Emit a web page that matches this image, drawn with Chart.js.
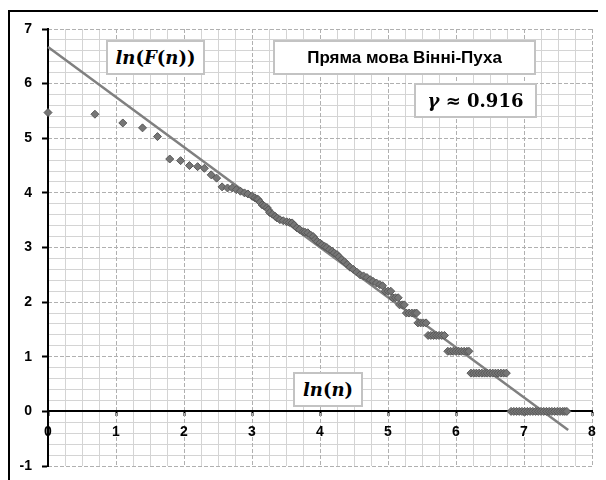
<!DOCTYPE html>
<html>
<head>
<meta charset="utf-8">
<script src="https://cdn.jsdelivr.net/npm/chart.js@4.4.1/dist/chart.umd.min.js"></script>
<style>
body { margin: 0; background: #fff; overflow: hidden; }
#wrap { position: relative; width: 606px; height: 480px; overflow: hidden; }
.line { position: absolute; background: #000; }
canvas { position: absolute; left: 0; top: 0; }
.box { position: absolute; background: #fff; border: 2px solid #c3c3c3; box-sizing: border-box;
       display: flex; align-items: center; justify-content: center; white-space: nowrap; color: #000; }
.math { font-family: 'DejaVu Serif', serif; font-weight: bold; font-size: 18px; }
.math i { font-style: italic; }
.title { font-family: 'Liberation Sans', sans-serif; font-weight: bold; font-size: 17px; }
</style>
</head>
<body>
<div id="wrap">
  <div class="line" style="left:8px;top:10px;width:590px;height:2px;"></div>
  <div class="line" style="left:8px;top:10px;width:2px;height:470px;"></div>
  <canvas id="chart" width="606" height="480"></canvas>
  <div class="box math" style="left:106px;top:40px;width:99px;height:35px;"><span><i>ln</i>(<i>F</i>(<i>n</i>))</span></div>
  <div class="box title" style="left:273px;top:40px;width:263px;height:35px;">Пряма мова Вінні-Пуха</div>
  <div class="box math" style="left:414px;top:83px;width:123px;height:35px;"><span><i>γ</i> ≈ 0.916</span></div>
  <div class="box math" style="left:293px;top:372px;width:70px;height:35px;"><span><i>ln</i>(<i>n</i>)</span></div>
</div>
<script>
// ln(n) - rank, ln(F(n)) - frequency
const lnN = [
  0, 0.69, 1.10, 1.39, 1.61, 1.79, 1.95, 2.08, 2.20, 2.30,
  2.40, 2.48, 2.56, 2.64, 2.71, 2.77, 2.83, 2.89, 2.94,
  3.00, 3.04, 3.07, 3.09, 3.12, 3.15, 3.18, 3.22, 3.24, 3.26,
  3.30, 3.34, 3.37, 3.41, 3.46, 3.51, 3.55, 3.59, 3.62, 3.66,
  3.70, 3.75, 3.78, 3.82, 3.86, 3.90, 3.93, 3.96, 4.00, 4.03,
  4.07, 4.10, 4.14, 4.18, 4.21, 4.25, 4.28, 4.32, 4.36, 4.40,
  4.44, 4.49, 4.54, 4.59, 4.64, 4.69, 4.74, 4.78, 4.83, 4.88, 4.92,
  4.96, 5.00, 5.04,
  5.07, 5.11, 5.15,
  5.17, 5.21, 5.24,
  5.27, 5.31, 5.35, 5.39, 5.42,
  5.44, 5.48, 5.52, 5.56,
  5.59, 5.63, 5.67, 5.71, 5.75, 5.79, 5.83,
  5.88, 5.92, 5.96, 6.00, 6.04, 6.08, 6.12, 6.16, 6.19,
  6.22, 6.26, 6.30, 6.34, 6.38, 6.42, 6.46, 6.50, 6.54, 6.58, 6.62, 6.66, 6.70, 6.74,
  6.81, 6.85, 6.89, 6.93, 6.97, 7.01, 7.05, 7.09, 7.13, 7.17, 7.21,
  7.25, 7.29, 7.33, 7.37, 7.41, 7.45, 7.49, 7.53, 7.57, 7.60, 7.63
];
const lnF = [
  5.47, 5.44, 5.28, 5.19, 5.03, 4.62, 4.59, 4.50, 4.48, 4.45,
  4.33, 4.27, 4.11, 4.09, 4.09, 4.06, 4.03, 4.00, 3.98,
  3.94, 3.91, 3.89, 3.88, 3.83, 3.78, 3.76, 3.73, 3.69, 3.64,
  3.61, 3.57, 3.54, 3.51, 3.49, 3.47, 3.46, 3.45, 3.41, 3.36,
  3.33, 3.29, 3.28, 3.27, 3.23, 3.20, 3.15, 3.11, 3.08, 3.05,
  3.02, 3.00, 2.96, 2.93, 2.90, 2.87, 2.83, 2.78, 2.74, 2.69,
  2.64, 2.60, 2.55, 2.50, 2.48, 2.45, 2.41, 2.38, 2.35, 2.32, 2.30,
  2.20, 2.20, 2.20,
  2.08, 2.08, 2.08,
  1.95, 1.95, 1.95,
  1.80, 1.80, 1.80, 1.80, 1.80,
  1.62, 1.62, 1.62, 1.62,
  1.39, 1.39, 1.39, 1.39, 1.39, 1.39, 1.39,
  1.10, 1.10, 1.10, 1.10, 1.10, 1.10, 1.10, 1.10, 1.10,
  0.70, 0.70, 0.70, 0.70, 0.70, 0.70, 0.70, 0.70, 0.70, 0.70, 0.70, 0.70, 0.70, 0.70,
  0, 0, 0, 0, 0, 0, 0, 0, 0, 0, 0,
  0, 0, 0, 0, 0, 0, 0, 0, 0, 0, 0
];
// trend line ln(F) = 6.67 - 0.916 ln(n)
const trendX = [0, 7.65];
const trendY = [6.67, -0.34];

const points = lnN.map((v, i) => ({ x: v, y: lnF[i] }));
const trend = trendX.map((v, i) => ({ x: v, y: trendY[i] }));

const isInt = v => Math.abs(v - Math.round(v)) < 1e-6;

const ctx = document.querySelector('#chart');
const chart = new Chart(ctx, {
  type: 'scatter',
  data: {
    datasets: [{
      data: points,
      pointStyle: 'rectRot',
      pointRadius: 4,
      backgroundColor: '#767676',
      borderColor: '#585858',
      borderWidth: 1,
      clip: false,
      order: 0
    }, {
      type: 'line',
      data: trend,
      borderColor: '#808080',
      borderWidth: 2.5,
      pointRadius: 0,
      fill: false,
      clip: false,
      order: 1
    }]
  },
  options: {
    responsive: false,
    animation: false,
    events: [],
    layout: { padding: { left: 0, right: 14, top: 29, bottom: 14 } },
    plugins: { legend: { display: false }, tooltip: { enabled: false } },
    scales: {
      x: {
        type: 'linear', position: { y: 0 }, min: 0, max: 8,
        ticks: {
          stepSize: 0.25, autoSkip: false, maxRotation: 0, maxTicksLimit: 100,
          padding: 6, color: '#000',
          font: { family: 'Liberation Sans', size: 14, weight: 'bold', lineHeight: 1.6 },
          callback: v => isInt(v) ? String(Math.round(v)) : ''
        },
        grid: {
          color: c => isInt(c.tick.value) ? 'rgba(0,0,0,0)' : '#d4d4d4',
          tickColor: c => isInt(c.tick.value) ? '#000' : 'rgba(0,0,0,0)',
          tickLength: 4, tickWidth: 2
        },
        border: { color: '#000', width: 2 }
      },
      y: {
        type: 'linear', position: 'left', min: -1, max: 7,
        afterFit: s => { s.width = 48; },
        ticks: {
          stepSize: 0.2, autoSkip: false, maxTicksLimit: 100,
          padding: 10, color: '#000',
          font: { family: 'Liberation Sans', size: 14, weight: 'bold', lineHeight: 0.5 },
          callback: v => isInt(v) ? String(Math.round(v)) : ''
        },
        grid: {
          color: c => isInt(c.tick.value) ? 'rgba(0,0,0,0)' : '#d4d4d4',
          tickColor: c => isInt(c.tick.value) ? '#000' : 'rgba(0,0,0,0)',
          tickLength: 6, tickWidth: 2
        },
        border: { color: '#000', width: 2 }
      },
      xMajor: {
        type: 'linear', axis: 'x', position: { y: 0 }, min: 0, max: 8,
        ticks: { stepSize: 1, display: false },
        grid: {
          color: c => c.tick.value === 0 ? 'rgba(0,0,0,0)' : '#b0b0b0',
          drawTicks: false
        },
        border: { display: false, dash: [4, 2] }
      },
      yMajor: {
        type: 'linear', axis: 'y', position: { x: 0 }, min: -1, max: 7,
        ticks: { stepSize: 1, display: false },
        grid: {
          color: c => c.tick.value === 0 ? 'rgba(0,0,0,0)' : '#b0b0b0',
          drawTicks: false
        },
        border: { display: false, dash: [4, 2] }
      }
    }
  }
});
</script>
</body>
</html>
